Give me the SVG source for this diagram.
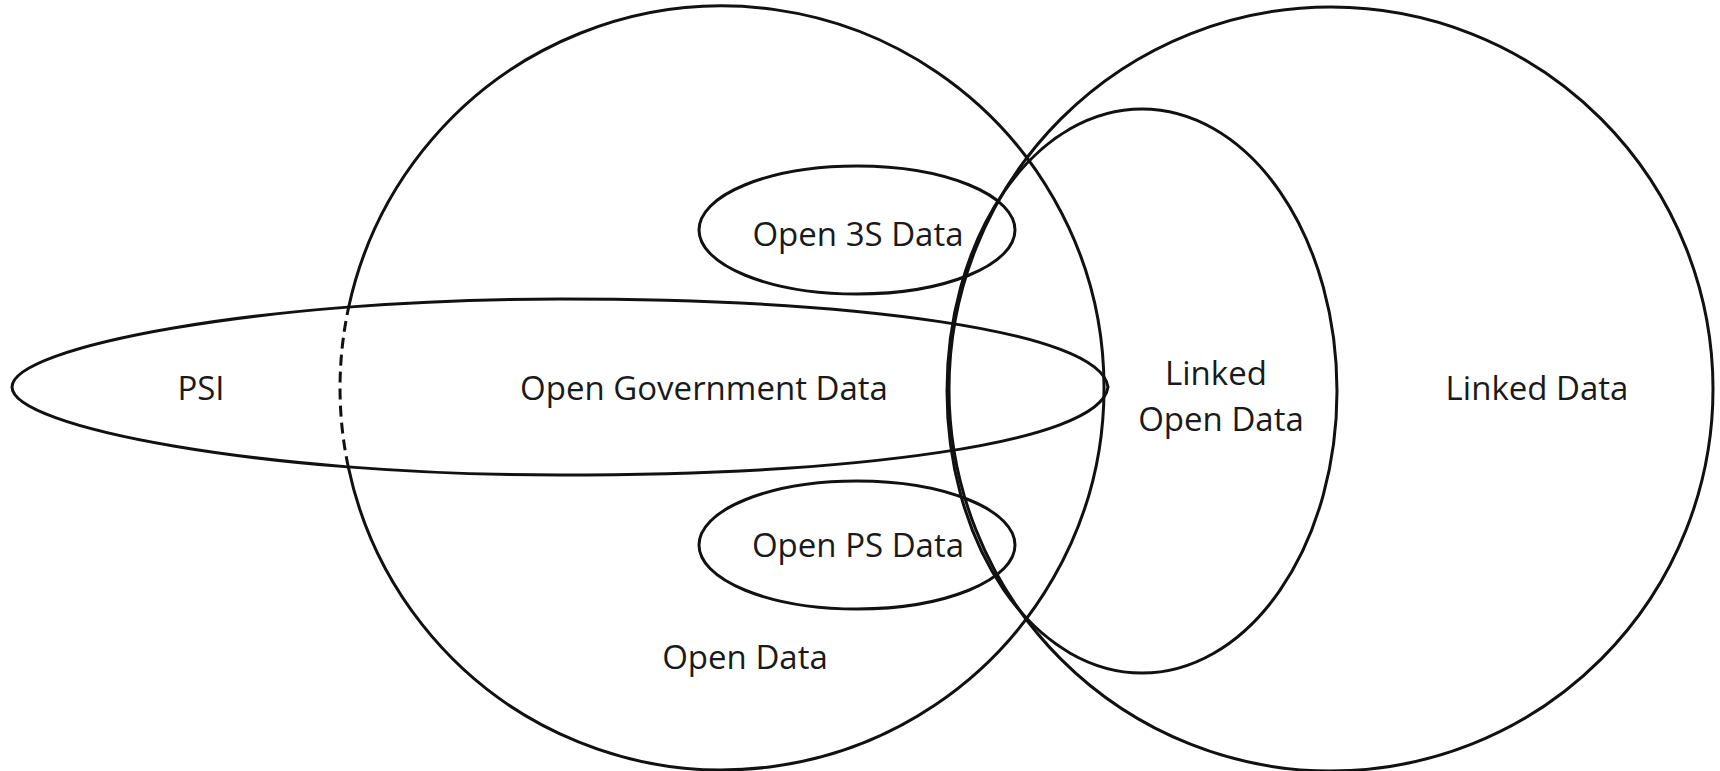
<svg xmlns="http://www.w3.org/2000/svg" width="1720" height="771" viewBox="0 0 1720 771">
<style>
.s{fill:none;stroke:#111;stroke-width:3}
.d{fill:none;stroke:#111;stroke-width:3;stroke-dasharray:11 6}
.t{font-family:"Open Sans",Lato,"Liberation Sans",sans-serif;font-size:33px;font-weight:500;fill:#1a1a1a;text-anchor:middle}
</style>
<rect width="1720" height="771" fill="#fff"/>
<g id="connectors"></g>
<g id="open-data">
<path class="s" d="M348.7,307 A382,382 0 1 1 348.3,467"/>
<path class="d" d="M348.3,467 A382,382 0 0 1 348.7,307"/>
<text class="t" x="745" y="669">Open Data</text>
</g>
<g id="linked-data">
<circle class="s" cx="1331" cy="389" r="382"/>
<text class="t" x="1537" y="400">Linked Data</text>
</g>
<g id="linked-open-data">
<ellipse class="s" cx="1142" cy="391" rx="195" ry="282"/>
<text class="t" x="1216" y="385">Linked</text>
<text class="t" x="1221" y="431">Open Data</text>
</g>
<g id="psi">
<path class="s" d="M12,387 C12,347 260,299 560,299 C850,299 1100,330 1108,387 C1100,444 850,475 560,475 C260,475 12,427 12,387 Z"/>
<text class="t" x="201" y="400">PSI</text>
<text class="t" x="704" y="400">Open Government Data</text>
</g>
<g id="open-3s-data">
<ellipse class="s" cx="857" cy="230" rx="158" ry="64"/>
<text class="t" x="858" y="246">Open 3S Data</text>
</g>
<g id="open-ps-data">
<ellipse class="s" cx="857" cy="545" rx="158" ry="64"/>
<text class="t" x="858" y="557">Open PS Data</text>
</g>
</svg>
